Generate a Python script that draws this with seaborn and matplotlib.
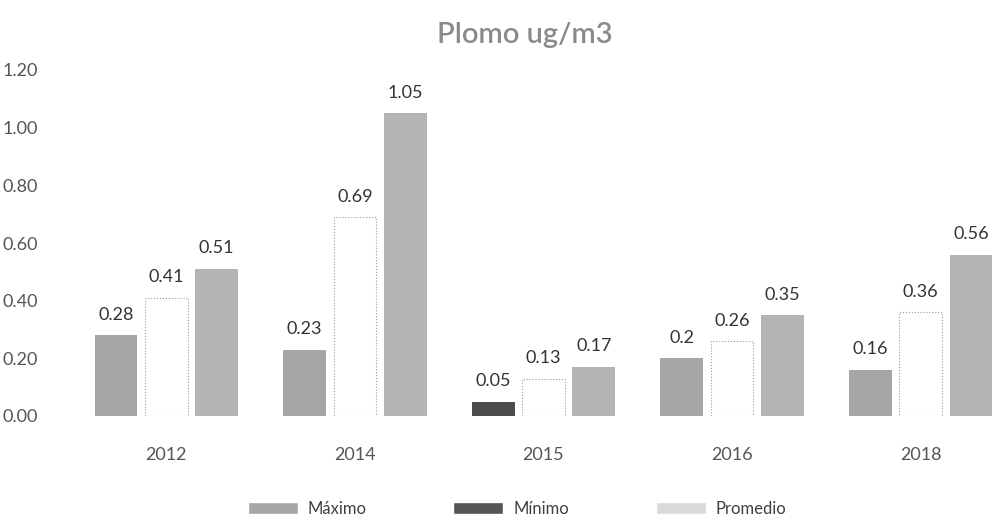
import matplotlib
matplotlib.use("Agg")
import matplotlib.pyplot as plt
from matplotlib.patches import Patch
import seaborn as sns
import pandas as pd

years = ["2012", "2014", "2015", "2016", "2018"]
series = ["Máximo", "Mínimo", "Promedio"]
maximo = [0.28, 0.23, 0.05, 0.20, 0.16]
minimo = [0.41, 0.69, 0.13, 0.26, 0.36]
promedio = [0.51, 1.05, 0.17, 0.35, 0.56]
labels = [["0.28", "0.23", "0.05", "0.2", "0.16"],
          ["0.41", "0.69", "0.13", "0.26", "0.36"],
          ["0.51", "1.05", "0.17", "0.35", "0.56"]]
yticks = [0.0, 0.2, 0.4, 0.6, 0.8, 1.0, 1.2]

df = pd.DataFrame({
    "Año": years * 3,
    "Serie": [s for s in series for _ in years],
    "Valor": maximo + minimo + promedio,
})

sns.set_theme(style="white")
plt.rcParams["font.family"] = ["Lato", "DejaVu Sans"]

fig = plt.figure(figsize=(9.95, 5.22), dpi=100)
ax = fig.add_axes([72 / 995, (522 - 416) / 522, (1015 - 72) / 995, (416 - 70) / 522])

palette = {"Máximo": "#a6a6a6", "Mínimo": "#ffffff", "Promedio": "#b4b4b4"}
sns.barplot(data=df, x="Año", y="Valor", hue="Serie", order=years,
            hue_order=series, palette=palette, width=0.8, gap=0.15,
            ax=ax, legend=False, saturation=1)

for i, cont in enumerate(ax.containers):
    for j, bar in enumerate(cont):
        if i == 1:
            bar.set_edgecolor("#9a9a9a")
            bar.set_linestyle(":")
            bar.set_linewidth(0.8)
        else:
            bar.set_linewidth(0)
        if i == 0 and years[j] == "2015":
            bar.set_facecolor("#4d4d4d")
    ax.bar_label(cont, labels=labels[i], padding=9, fontsize=13, color="#333333")

ax.set_ylim(0, 1.2)
ax.set_yticks(yticks)
ax.set_yticklabels([f"{v:.2f}" for v in yticks])
ax.set_xlabel("")
ax.set_ylabel("")
for s in ax.spines.values():
    s.set_visible(False)
ax.tick_params(axis="y", length=0, labelsize=13, labelcolor="#555555")
ax.tick_params(axis="x", length=0, pad=22, labelsize=13, labelcolor="#555555")
for t in ax.get_yticklabels():
    t.set_horizontalalignment("left")
ax.yaxis.set_tick_params(pad=50)

fig.text(525 / 995, 1 - 35 / 522, "Plomo ug/m3", ha="center", va="center",
         fontsize=21, color="#8a8a8a", fontweight="semibold")

handles = [Patch(facecolor="#a6a6a6", label="Máximo"),
           Patch(facecolor="#555555", label="Mínimo"),
           Patch(facecolor="#d9d9d9", label="Promedio")]
fig.legend(handles=handles, loc="center", bbox_to_anchor=(517 / 995, 1 - 509 / 522),
           ncol=3, frameon=False, fontsize=12, handlelength=3.0, handleheight=0.7,
           columnspacing=5.2, handletextpad=0.6, labelcolor="#404040")

fig.savefig("out.png", dpi=100)
